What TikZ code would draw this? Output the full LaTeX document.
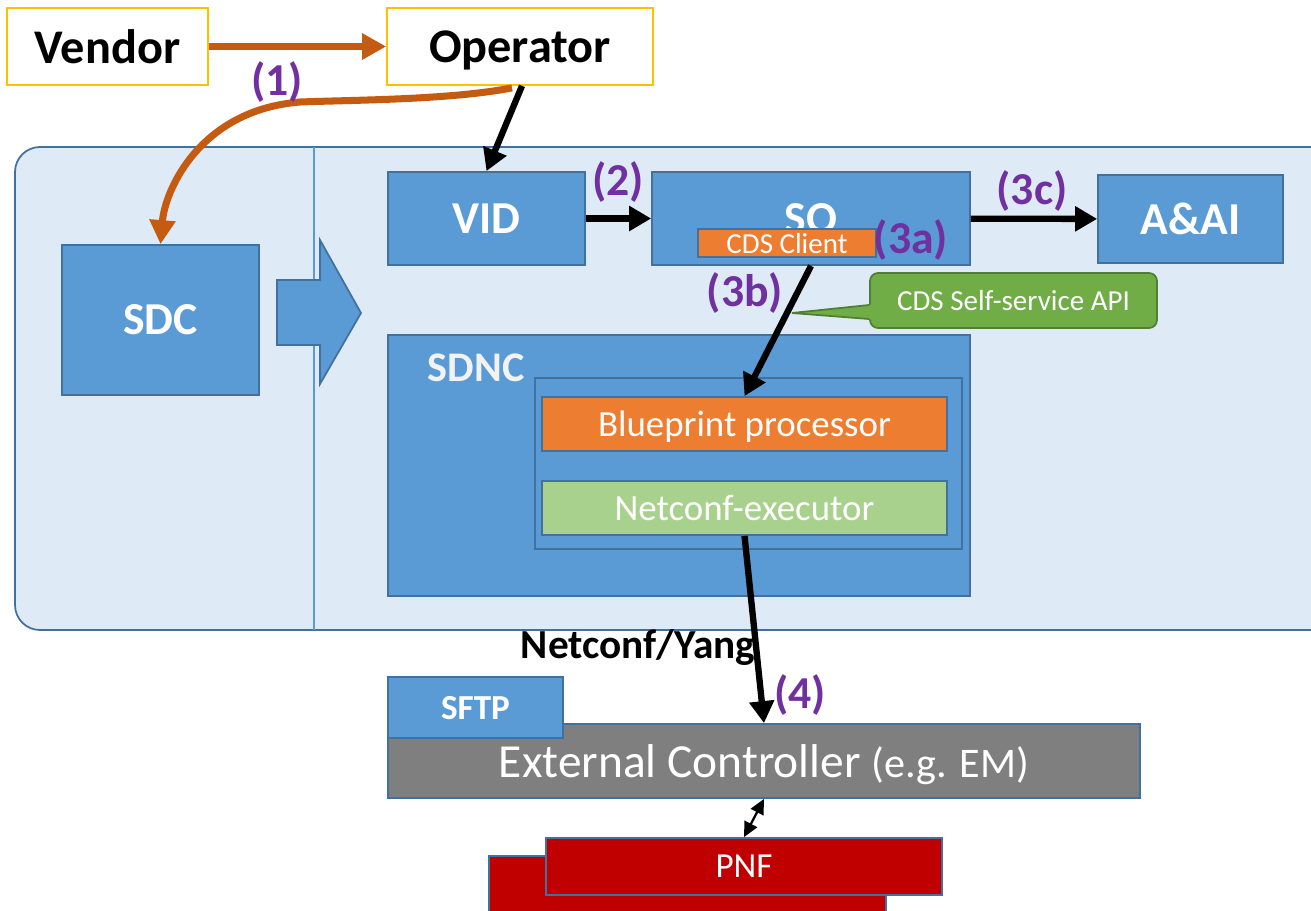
\documentclass[tikz,border=0pt]{standalone}
\usepackage{fontspec}
\setmainfont{Carlito}
\usetikzlibrary{arrows.meta}
\definecolor{boxblue}{HTML}{5B9BD5}
\definecolor{edgeblue}{HTML}{41719C}
\definecolor{paleblue}{HTML}{DEEBF7}
\definecolor{gold}{HTML}{FFC000}
\definecolor{rust}{HTML}{C55A11}
\definecolor{lblpurple}{HTML}{7030A0}
\definecolor{cdsorange}{HTML}{ED7D31}
\definecolor{apigreen}{HTML}{70AD47}
\definecolor{apiedge}{HTML}{507E32}
\definecolor{execgreen}{HTML}{A9D18E}
\definecolor{ecgray}{HTML}{7F7F7F}
\definecolor{pnfred}{HTML}{C00000}

\tikzset{
    blk/.style={draw=edgeblue, line width=1pt, fill=boxblue, text=white, inner sep=0pt,
        text depth=0pt, font=\bfseries\fontsize{26}{30}\selectfont},
    actor/.style={draw=gold, line width=1pt, fill=white, inner sep=0pt,
        text depth=0pt, font=\bfseries\fontsize{27.5}{32}\selectfont},
    bar/.style={draw=edgeblue, line width=1pt, text=white, inner sep=0pt, text depth=0pt},
    num/.style={text=lblpurple, inner sep=0pt, font=\bfseries\fontsize{26}{30}\selectfont},
    flow/.style={line width=3.6pt, -{Triangle[length=0.44cm,width=0.48cm]}},
    feed/.style={rust, line width=4pt, -{Triangle[length=0.48cm,width=0.5cm]}},
}

\newcommand{\StepLabel}[4]{%
    \node[num] (#1) at (#2,#3) {(#4)};
}

\begin{document}
\begin{tikzpicture}[x=0.02cm,y=-0.02cm]
        \useasboundingbox (0,0) rectangle (1311,910);
        \draw[draw=edgeblue, fill=paleblue, line width=1pt, rounded corners=0.5cm] (15,147) rectangle (1335,630);
        \draw[boxblue, line width=0.6pt] (314,147) -- (314,630);
        \filldraw[fill=boxblue, draw=edgeblue, line width=1pt] (277,280) -- (320,280) -- (320,240)
            -- (361,313) -- (320,384) -- (320,345) -- (277,345) -- cycle;

        \node[actor, minimum width=4.02cm, minimum height=1.54cm] (vendor) at (107.5,46.5) {Vendor};
        \node[actor, minimum width=5.32cm, minimum height=1.54cm] (operator) at (520,46.5) {Operator};

        \node[blk, minimum width=3.94cm, minimum height=3cm] (sdc) at (160.5,320) {SDC};
        \node[blk, minimum width=3.94cm, minimum height=1.86cm] (vid) at (486.5,218.5) {VID};
        \node[blk, minimum width=6.36cm, minimum height=1.86cm] (so) at (811,218.5) {SO};
        \node[bar, fill=cdsorange, minimum width=3.56cm, minimum height=0.56cm,
            font=\fontsize{16.5}{19}\selectfont] (cds) at (787,243) {CDS Client};
        \node[blk, minimum width=3.7cm, minimum height=1.76cm] (aai) at (1190.5,219) {A\&AI};

        \node[blk, minimum width=11.64cm, minimum height=5.22cm] (sdnc) at (679,465.5) {};
        \node[text=white!95!black, inner sep=0pt, text depth=0pt,
            font=\bfseries\fontsize{24}{28}\selectfont] (sdnclabel) at (476,368) {SDNC};
        \node[blk, minimum width=8.54cm, minimum height=3.42cm] (inner) at (748.5,463.5) {};
        \node[bar, fill=cdsorange, minimum width=8.1cm, minimum height=1.08cm,
            font=\fontsize{21}{25}\selectfont] (blueprint) at (744.5,424) {Blueprint processor};
        \node[bar, fill=execgreen, minimum width=8.1cm, minimum height=1.08cm,
            font=\fontsize{21}{25}\selectfont] (netconf) at (744.5,508) {Netconf-executor};

        \node[draw=apiedge, fill=apigreen, line width=1pt, rounded corners=0.16cm, text=white,
            inner sep=0pt, text depth=0pt, minimum width=5.74cm, minimum height=1.1cm,
            font=\fontsize{16.5}{20}\selectfont] (api) at (1013.5,300.5) {CDS Self-service API};
        \coordinate (tail) at (792,313);
        \fill[apigreen] ([xshift=0.06cm,yshift=-0.08cm]api.west) -- (tail) -- ([xshift=0.06cm,yshift=-0.38cm]api.west) -- cycle;
        \draw[apiedge, line width=1pt] ([yshift=-0.09cm]api.west) -- (tail) -- ([yshift=-0.37cm]api.west);

        \draw[feed] (vendor) -- (operator);
        \draw[feed] ([xshift=-0.16cm,yshift=-0.04cm]operator.south) .. controls (450,100) and (350,100) .. (300,102)
            .. controls (200,110) and (165,190) .. (sdc.north);
        \draw[flow] ([xshift=0.04cm]operator.south) -- (vid.north);
        \draw[flow] (vid) -- (so);
        \draw[flow] (so) -- (aai);
        \draw[flow] (so.south) -- (blueprint.north);

        \node[font=\bfseries\fontsize{23.5}{28}\selectfont, inner sep=0pt] (proto) at (638,647.5) {Netconf/Yang};

        \node[bar, fill=ecgray, minimum width=15.04cm, minimum height=1.48cm,
            font=\fontsize{27}{32}\selectfont] (ec) at (764,761) {External Controller {\fontsize{24}{28}\selectfont(e.g. EM)}};
        \node[blk, minimum width=3.5cm, minimum height=1.22cm,
            font=\bfseries\fontsize{20}{24}\selectfont] (sftp) at (475.5,707.5) {SFTP};
        \draw[flow] (netconf.south) -- (ec.north);

        \node[bar, fill=pnfred, minimum width=7.94cm, minimum height=1.14cm,
            font=\fontsize{20}{24}\selectfont] (pnfback) at (687.5,884.5) {PNF};
        \node[bar, fill=pnfred, minimum width=7.92cm, minimum height=1.14cm,
            font=\fontsize{20}{24}\selectfont] (pnf) at (744,866.5) {PNF};
        \draw[line width=1.3pt, {Triangle[length=0.3cm,width=0.28cm]}-{Triangle[length=0.3cm,width=0.28cm]}] (ec.south) -- (pnf.north);

        \StepLabel{s1}{277}{82}{1}
        \StepLabel{s2}{618}{182}{2}
        \StepLabel{s3a}{911}{240}{3a}
        \StepLabel{s3b}{745}{293}{3b}
        \StepLabel{s3c}{1032}{191}{3c}
        \StepLabel{s4}{800}{695}{4}
\end{tikzpicture}
\end{document}
